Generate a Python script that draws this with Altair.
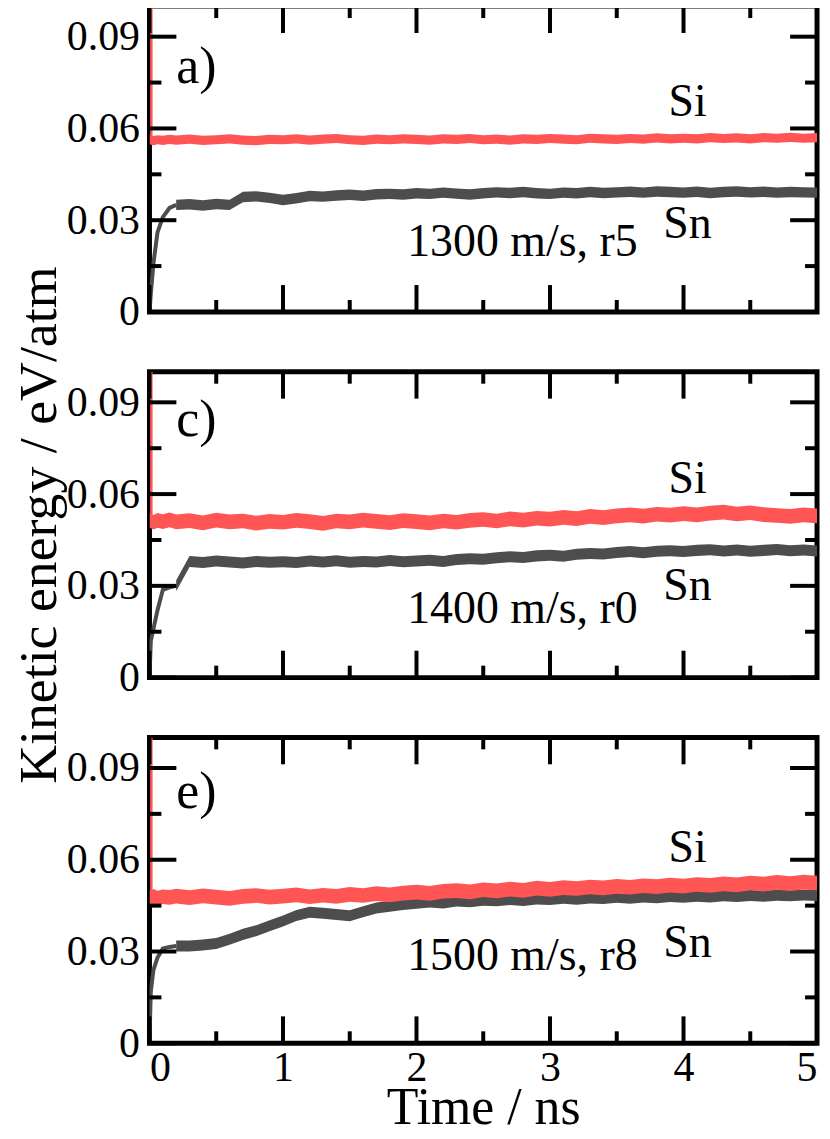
import altair as alt
import pandas as pd

FONT = "Liberation Serif"

# time grid (ns)
T = [0, 0.01, 0.03, 0.06, 0.1, 0.15, 0.2,
     0.3, 0.4, 0.5, 0.6, 0.7, 0.8, 0.9,
     1.0, 1.1, 1.2, 1.3, 1.4, 1.5, 1.6, 1.7, 1.8, 1.9,
     2.0, 2.1, 2.2, 2.3, 2.4, 2.5, 2.6, 2.7, 2.8, 2.9,
     3.0, 3.1, 3.2, 3.3, 3.4, 3.5, 3.6, 3.7, 3.8, 3.9,
     4.0, 4.1, 4.2, 4.3, 4.4, 4.5, 4.6, 4.7, 4.8, 4.9,
     5.0]

# panel a) 1300 m/s, r5
SI_A = [0.0565, 0.0562, 0.0560, 0.0563, 0.0561, 0.0564, 0.0562,
        0.0565, 0.0561, 0.0563, 0.0566, 0.0562, 0.0560, 0.0564,
        0.0563, 0.0566, 0.0562, 0.0565, 0.0567, 0.0563, 0.0561, 0.0565, 0.0563, 0.0566,
        0.0564, 0.0562, 0.0566, 0.0564, 0.0567, 0.0563, 0.0565, 0.0562, 0.0566, 0.0564,
        0.0567, 0.0565, 0.0563, 0.0568, 0.0566, 0.0564, 0.0567, 0.0565, 0.0569, 0.0566,
        0.0568, 0.0566, 0.0570, 0.0567, 0.0569, 0.0566, 0.0570, 0.0568, 0.0571, 0.0568,
        0.0570]
SN_A = [0.0000, 0.0060, 0.0160, 0.0260, 0.0310, 0.0340, 0.0350,
        0.0352, 0.0348, 0.0353, 0.0350, 0.0376, 0.0378, 0.0373,
        0.0366, 0.0372, 0.0379, 0.0377, 0.0381, 0.0383, 0.0380, 0.0385, 0.0386, 0.0384,
        0.0388, 0.0386, 0.0390, 0.0387, 0.0384, 0.0388, 0.0391, 0.0389, 0.0392, 0.0388,
        0.0386, 0.0390, 0.0388, 0.0392, 0.0389, 0.0391, 0.0393, 0.0390, 0.0394, 0.0392,
        0.0390, 0.0393, 0.0389, 0.0392, 0.0394, 0.0391, 0.0393, 0.0390, 0.0392, 0.0391,
        0.0390]

# panel c) 1400 m/s, r0
SI_C = [0.0515, 0.0512, 0.0508, 0.0514, 0.0510, 0.0516, 0.0509,
        0.0513, 0.0506, 0.0515, 0.0509, 0.0512, 0.0505, 0.0511,
        0.0508, 0.0514, 0.0510, 0.0504, 0.0512, 0.0509, 0.0515, 0.0511, 0.0507, 0.0513,
        0.0510, 0.0506, 0.0512, 0.0508, 0.0514, 0.0517, 0.0512, 0.0519, 0.0515, 0.0521,
        0.0518, 0.0524, 0.0520, 0.0527, 0.0523, 0.0529, 0.0532, 0.0528, 0.0534, 0.0531,
        0.0536, 0.0532, 0.0538, 0.0541, 0.0535, 0.0539, 0.0533, 0.0530, 0.0527, 0.0532,
        0.0529]
SN_C = [0.0000, 0.0120, 0.0160, 0.0220, 0.0287, 0.0295, 0.0300,
        0.0380, 0.0376, 0.0381, 0.0378, 0.0375, 0.0380, 0.0377,
        0.0379, 0.0376, 0.0381, 0.0378, 0.0382, 0.0377, 0.0380, 0.0378, 0.0383, 0.0379,
        0.0381, 0.0384, 0.0380, 0.0386, 0.0389, 0.0387, 0.0392, 0.0395, 0.0393, 0.0398,
        0.0400, 0.0397, 0.0403, 0.0406, 0.0404, 0.0409, 0.0412, 0.0408, 0.0413, 0.0415,
        0.0412, 0.0416, 0.0418, 0.0414, 0.0417, 0.0413, 0.0416, 0.0419, 0.0415, 0.0417,
        0.0414]

# panel e) 1500 m/s, r8
SI_E = [0.0478, 0.0476, 0.0480, 0.0475, 0.0479, 0.0477, 0.0481,
        0.0476, 0.0482, 0.0478, 0.0474, 0.0480, 0.0483, 0.0478,
        0.0481, 0.0485, 0.0479, 0.0484, 0.0480, 0.0487, 0.0483, 0.0489, 0.0485, 0.0491,
        0.0494, 0.0490, 0.0497, 0.0499, 0.0495, 0.0502, 0.0498, 0.0504, 0.0500, 0.0507,
        0.0503, 0.0509, 0.0506, 0.0511, 0.0508, 0.0513, 0.0510, 0.0515, 0.0512, 0.0517,
        0.0514, 0.0519, 0.0516, 0.0521, 0.0518, 0.0524, 0.0520, 0.0526, 0.0522, 0.0527,
        0.0524]
SN_E = [0.0010, 0.0170, 0.0240, 0.0280, 0.0310, 0.0315, 0.0318,
        0.0318, 0.0321, 0.0326, 0.0340, 0.0356, 0.0368, 0.0384,
        0.0400, 0.0418, 0.0428, 0.0425, 0.0421, 0.0417, 0.0430, 0.0442, 0.0448, 0.0454,
        0.0458, 0.0462, 0.0459, 0.0465, 0.0463, 0.0468, 0.0466, 0.0470, 0.0467, 0.0472,
        0.0470, 0.0474, 0.0471, 0.0475, 0.0473, 0.0477, 0.0474, 0.0478, 0.0476, 0.0480,
        0.0477, 0.0481, 0.0478, 0.0482, 0.0480, 0.0483, 0.0481, 0.0484, 0.0482, 0.0485,
        0.0483]

SI = [SI_A, SI_C, SI_E]
SN = [SN_A, SN_C, SN_E]
HW_SI = [0.0015, 0.0024, 0.0024]   # half spread of the noisy band
HW_SN = [0.0017, 0.0018, 0.0018]
SPIKE_TOP = 0.1
EARLY_END = 0.2                    # Sn initial rise drawn as a line up to here

PANEL_LABELS = ["a)", "c)", "e)"]
RUN_LABELS = ["1300 m/s, r5", "1400 m/s, r0", "1500 m/s, r8"]
PANEL_LABEL_V = [0.075, 0.079, 0.077]
SI_LABEL_V = [0.064, 0.0603, 0.0592]
SN_LABEL_V = [0.0243, 0.0254, 0.0283]
RUN_LABEL_V = [0.0184, 0.0179, 0.0240]

Y_MAJOR = [0, 0.03, 0.06, 0.09]
Y_MINOR = [0.015, 0.045, 0.075]
X_MAJOR = [0, 1, 2, 3, 4, 5]
X_MINOR = [0.5, 1.5, 2.5, 3.5, 4.5]

RED = "#ff5555"
GREY = "#4d4d4d"

W, H = 670, 307
MAJ, MIN = 27, 12
TICKW = 4

xs = alt.Scale(domain=[0, 5], nice=False, zero=False)
ys = alt.Scale(domain=[0, 0.1], nice=False, zero=False)


def band(center, hw, t_from):
    rows = []
    for t, c in zip(T, center):
        if t >= t_from:
            rows.append({"t": t, "lo": c - hw, "hi": c + hw})
    return pd.DataFrame(rows)


def panel(i, bottom, ytitle):
    if bottom:
        xaxis = alt.Axis(values=X_MAJOR, ticks=False, domain=False, grid=False,
                         labelFontSize=42, labelPadding=4, labelFont=FONT,
                         title="Time / ns", titleFontSize=52, titleFont=FONT,
                         titleFontWeight="normal", titlePadding=-5, labelColor="black",
                         titleColor="black")
    else:
        xaxis = None
    yaxis = alt.Axis(values=Y_MAJOR, ticks=False, domain=False, grid=False,
                     labelFontSize=42, labelPadding=10, labelFont=FONT,
                     labelExpr="datum.value == 0 ? '0' : format(datum.value, '.2f')",
                     title=ytitle, titleFontSize=54, titleFont=FONT,
                     titleFontWeight="normal", titlePadding=0, labelColor="black",
                     titleColor="black")

    X = lambda f: alt.X(f, scale=xs, axis=xaxis)
    Y = lambda f: alt.Y(f, scale=ys, axis=yaxis)

    sn = alt.Chart(band(SN[i], HW_SN[i], EARLY_END)).mark_area(color=GREY, clip=True).encode(
        x=X("t:Q"), y=Y("lo:Q"), y2="hi:Q")
    early = pd.DataFrame({"t": T, "v": SN[i]})
    early = early[early["t"] <= EARLY_END]
    sn_line = alt.Chart(early).mark_line(color=GREY, strokeWidth=4, clip=True).encode(
        x=X("t:Q"), y=Y("v:Q"))
    si = alt.Chart(band(SI[i], HW_SI[i], 0)).mark_area(color=RED, clip=True).encode(
        x=X("t:Q"), y=Y("lo:Q"), y2="hi:Q")
    spike = alt.Chart(pd.DataFrame([{"t": 0.014, "v0": SI[i][0], "v1": SPIKE_TOP}])).mark_rule(
        color=RED, strokeWidth=2.5, clip=True).encode(x=X("t:Q"), y=Y("v0:Q"), y2="v1:Q")

    def yt(vals, x0, x1):
        return alt.Chart(pd.DataFrame({"t": vals})).mark_rule(
            color="black", strokeWidth=TICKW, strokeCap="butt").encode(
            y=Y("t:Q"), x=alt.value(x0), x2=alt.value(x1))

    def xt(vals, y0, y1):
        return alt.Chart(pd.DataFrame({"t": vals})).mark_rule(
            color="black", strokeWidth=TICKW, strokeCap="butt").encode(
            x=X("t:Q"), y=alt.value(y0), y2=alt.value(y1))

    ticks = [
        yt(Y_MAJOR, 0, MAJ), yt(Y_MINOR, 0, MIN),
        yt(Y_MAJOR, W - MAJ, W), yt(Y_MINOR, W - MIN, W),
        xt(X_MAJOR, 0, MAJ), xt(X_MINOR, 0, MIN),
        xt(X_MAJOR, H - MAJ, H), xt(X_MINOR, H - MIN, H),
    ]

    lab_left = pd.DataFrame([
        {"t": 0.2, "v": PANEL_LABEL_V[i], "s": PANEL_LABELS[i], "fs": 52},
        {"t": 1.93, "v": RUN_LABEL_V[i], "s": RUN_LABELS[i], "fs": 46},
    ])
    lab_mid = pd.DataFrame([
        {"t": 4.03, "v": SI_LABEL_V[i], "s": "Si"},
        {"t": 4.03, "v": SN_LABEL_V[i], "s": "Sn"},
    ])
    t_left = alt.Chart(lab_left).mark_text(
        font=FONT, align="left", baseline="alphabetic", color="black").encode(
        x=X("t:Q"), y=Y("v:Q"),
        text="s:N", size=alt.Size("fs:Q", scale=None, legend=None))
    t_mid = alt.Chart(lab_mid).mark_text(
        font=FONT, align="center", baseline="alphabetic", color="black", fontSize=46).encode(
        x=X("t:Q"), y=Y("v:Q"), text="s:N")

    return alt.layer(sn, sn_line, si, spike, *ticks, t_left, t_mid).properties(width=W, height=H)


chart = alt.vconcat(
    panel(0, False, None),
    panel(1, False, "Kinetic energy / eV/atm"),
    panel(2, True, None),
    spacing=60,
    bounds="flush",
).properties(
    padding={"left": 2, "top": -9, "right": 0, "bottom": 0},
    background="white",
).configure_view(
    stroke="black", strokeWidth=5
)

chart.save("out.html", embed_options={"renderer": "svg", "actions": False})
